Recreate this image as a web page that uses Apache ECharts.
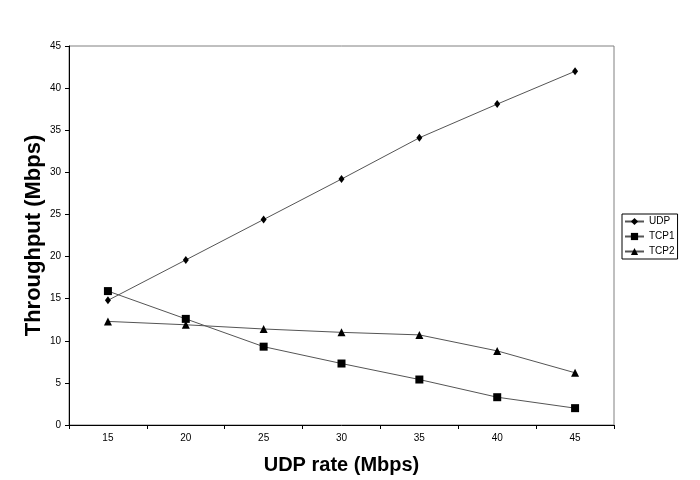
<!DOCTYPE html>
<html>
<head>
<meta charset="utf-8">
<script src="https://cdn.jsdelivr.net/npm/echarts@6/dist/echarts.min.js"></script>
<style>html,body{margin:0;padding:0;background:#fff}#c{width:700px;height:480px}</style>
</head>
<body>
<div id="c"></div>
<script>
var categories = ['15', '20', '25', '30', '35', '40', '45'];
var udp  = [14.8, 19.6, 24.4, 29.2, 34.1, 38.1, 42.0];
var tcp1 = [15.9, 12.6, 9.3, 7.3, 5.4, 3.3, 2.0];
var tcp2 = [12.3, 11.9, 11.4, 11.0, 10.7, 8.8, 6.2];
var seriesNames = ['UDP', 'TCP1', 'TCP2'];

var font = 'Liberation Sans, Arial, sans-serif';
var chart = echarts.init(document.getElementById('c'), null, {renderer: 'canvas'});
function mk(name, data, symbol, size) {
  return {
    name: name, type: 'line', data: data, symbol: symbol, symbolSize: size,
    showSymbol: true,
    lineStyle: {color: '#555', width: 1},
    itemStyle: {color: '#000', borderWidth: 0},
    emphasis: {disabled: true}
  };
}
chart.setOption({
  animation: false,
  backgroundColor: '#fff',
  textStyle: {fontFamily: font},
  grid: {left: 69, top: 46, right: 86, bottom: 55, show: true, borderColor: '#808080', borderWidth: 1, containLabel: false},
  legend: {
    orient: 'vertical', left: 622, top: 214,
    borderColor: '#000', borderWidth: 1, padding: [2, 3, 2, 2],
    itemWidth: 19, itemHeight: 9, itemGap: 4,
    textStyle: {fontFamily: font, fontSize: 10, color: '#000', lineHeight: 11},
    data: seriesNames
  },
  xAxis: {
    type: 'category', data: categories, boundaryGap: true,
    name: 'UDP rate (Mbps)', nameLocation: 'middle', nameGap: 30,
    nameMoveOverlap: false,
    nameTextStyle: {fontFamily: font, fontSize: 20, fontWeight: 'bold', color: '#000'},
    axisLine: {lineStyle: {color: '#000', width: 1}},
    axisTick: {show: true, length: 4, lineStyle: {color: '#000'}},
    axisLabel: {fontFamily: font, fontSize: 10, color: '#000', margin: 8},
    splitLine: {show: false}
  },
  yAxis: {
    type: 'value', min: 0, max: 45, interval: 5,
    name: 'Throughput (Mbps)', nameLocation: 'middle', nameGap: 24,
    nameMoveOverlap: false,
    nameTextStyle: {fontFamily: font, fontSize: 22, fontWeight: 'bold', color: '#000'},
    axisLine: {show: true, lineStyle: {color: '#000', width: 1}},
    axisTick: {show: true, length: 4, lineStyle: {color: '#000'}},
    axisLabel: {fontFamily: font, fontSize: 10, color: '#000', margin: 8},
    splitLine: {show: false}
  },
  series: [
    mk(seriesNames[0], udp, 'diamond', [6, 8]),
    mk(seriesNames[1], tcp1, 'rect', 8),
    mk(seriesNames[2], tcp2, 'triangle', 8)
  ]
});
</script>
</body>
</html>
